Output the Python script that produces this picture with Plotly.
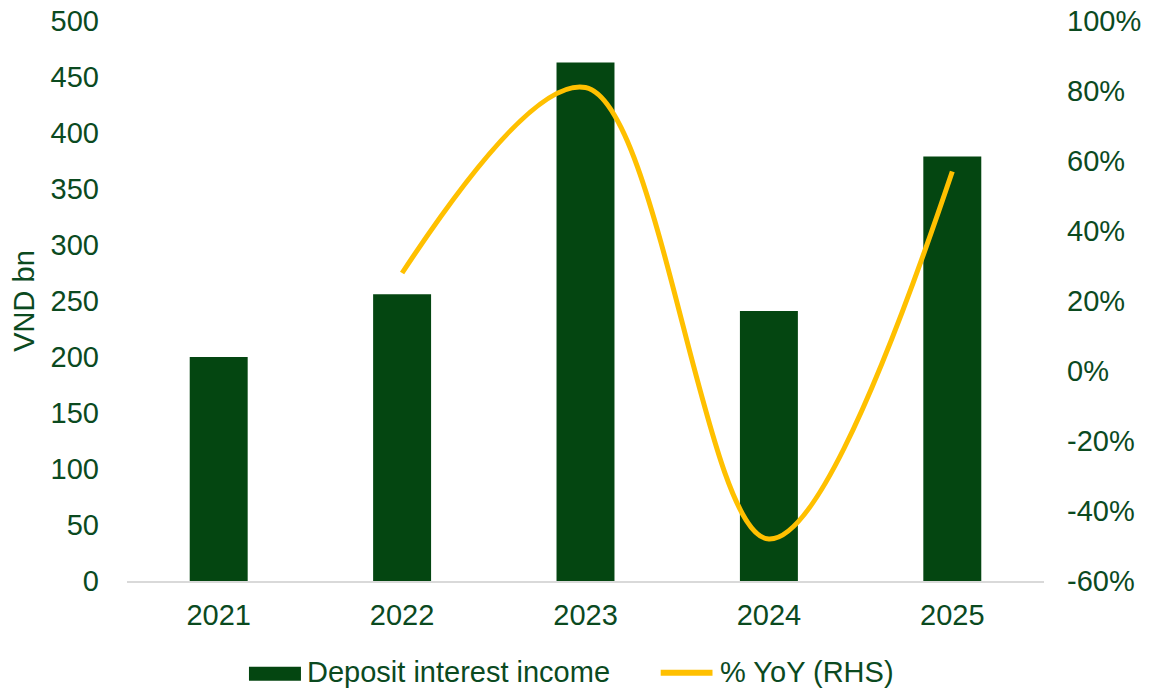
import plotly.graph_objects as go

years = ["2021", "2022", "2023", "2024", "2025"]
deposit_income = [200, 256, 463, 241, 379]
yoy_years = ["2022", "2023", "2024", "2025"]
yoy_pct = [0.28, 0.81, -0.48, 0.57]
rhs_tickvals = [-0.6, -0.4, -0.2, 0.0, 0.2, 0.4, 0.6, 0.8, 1.0]
rhs_ticktext = ["-60%", "-40%", "-20%", "0%", "20%", "40%", "60%", "80%", "100%"]
bar_name = "Deposit interest income"
line_name = "% YoY (RHS)"

TXT = "#0B4A1F"
BAR = "#044611"
LINE = "#FFC000"
FONT = "Liberation Sans, Arial, sans-serif"
FS = 29

fig = go.Figure()
fig.add_trace(go.Bar(
    x=years, y=deposit_income, name=bar_name,
    marker=dict(color=BAR, line=dict(width=0)),
    yaxis="y", showlegend=False,
))
fig.add_trace(go.Scatter(
    x=yoy_years, y=yoy_pct, name=line_name, mode="lines",
    line=dict(color=LINE, width=5, shape="spline", smoothing=1.0),
    yaxis="y2", showlegend=False,
))

# Legend drawn below the plot (Excel-style wide swatches)
fig.add_shape(type="rect", xref="paper", yref="paper",
              x0=0.1330, x1=0.1897, y0=-0.1780, y1=-0.1530,
              fillcolor=BAR, line=dict(width=0))
fig.add_annotation(xref="paper", yref="paper", x=0.1950, y=-0.1929,
                   xanchor="left", yanchor="bottom", showarrow=False, borderpad=0,
                   text=bar_name, font=dict(size=FS, color=TXT))
fig.add_shape(type="line", xref="paper", yref="paper",
              x0=0.5820, x1=0.6385, y0=-0.1640, y1=-0.1640,
              line=dict(color=LINE, width=6))
fig.add_annotation(xref="paper", yref="paper", x=0.6455, y=-0.1929,
                   xanchor="left", yanchor="bottom", showarrow=False, borderpad=0,
                   text=line_name, font=dict(size=FS, color=TXT))

fig.update_layout(
    width=1170, height=689,
    margin=dict(l=127, r=126, t=21, b=108),
    paper_bgcolor="white", plot_bgcolor="white",
    font=dict(family=FONT, size=FS, color=TXT),
    bargap=0.684,
    showlegend=False,
    xaxis=dict(type="category", showgrid=False, showline=True, linecolor="#D9D9D9",
               linewidth=1.5, ticks="", tickfont=dict(size=FS, color=TXT),
               ticklabelstandoff=7, automargin=False),
    yaxis=dict(range=[0, 500], dtick=50, showgrid=False, zeroline=False, showline=False,
               title=dict(text="VND bn", font=dict(size=FS, color=TXT), standoff=7),
               tickfont=dict(size=FS, color=TXT), ticklabelstandoff=27, automargin=False),
    yaxis2=dict(range=[-0.6, 1.0], tickvals=rhs_tickvals, ticktext=rhs_ticktext,
                overlaying="y", side="right",
                showgrid=False, zeroline=False, showline=False,
                tickfont=dict(size=FS, color=TXT), ticklabelstandoff=22, automargin=False),
)

fig.write_html("out.html")
